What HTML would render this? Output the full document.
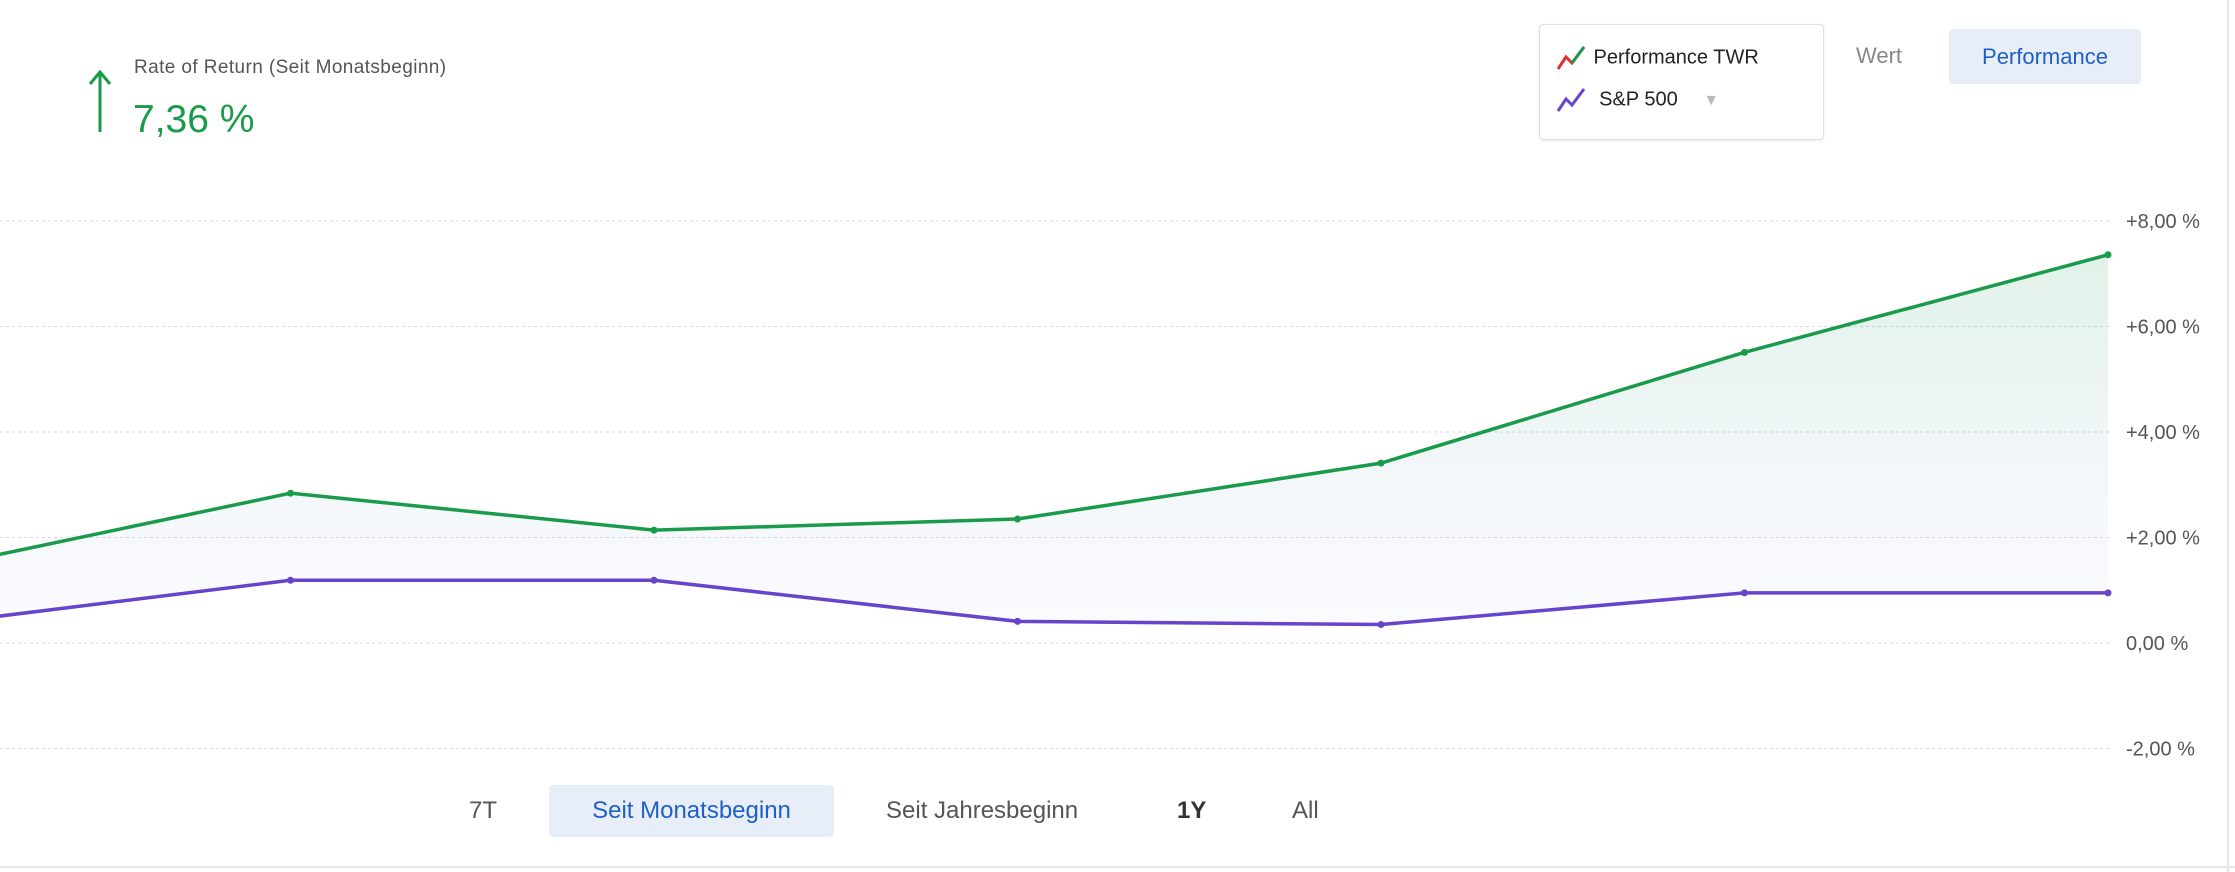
<!DOCTYPE html>
<html><head><meta charset="utf-8"><style>
body{margin:0;width:2235px;height:872px;background:#fff;font-family:"Liberation Sans",sans-serif;overflow:hidden;position:relative}
.a{position:absolute;white-space:nowrap}
</style></head><body>
<div class="a" style="left:2227px;top:0;width:2px;height:872px;background:#e3e6ea"></div>
<div class="a" style="left:0;top:866px;width:2235px;height:2px;background:#e3e6ea"></div>
<svg class="a" style="left:88px;top:68px" width="24" height="66"><path d="M12 64V4M2 16L12 4L22 16" stroke="#1a9b4b" stroke-width="3" fill="none"/></svg>
<div class="a" style="left:134px;top:57px;font-size:19px;letter-spacing:0.4px;color:#555">Rate of Return (Seit Monatsbeginn)</div>
<div class="a" style="left:133px;top:98px;font-size:39px;color:#1a9b4b">7,36 %</div>
<div class="a" style="left:1539px;top:24px;width:283px;height:114px;border:1px solid #dde0e4;border-radius:4px;box-shadow:0 1px 3px rgba(0,0,0,.08)">
 <div class="a" style="left:14px;top:18px;font-size:20px;color:#222"><svg width="34" height="30" style="vertical-align:middle"><path d="M4 26L12 14L18 20L30 4" stroke="#e03030" stroke-width="3" fill="none"/><path d="M18 20L30 4" stroke="#1a9b4b" stroke-width="3"/></svg> Performance TWR</div>
 <div class="a" style="left:14px;top:60px;font-size:20px;color:#222"><svg width="34" height="30" style="vertical-align:middle"><path d="M4 26L12 14L18 20L30 4" stroke="#6644cc" stroke-width="3" fill="none"/></svg> &nbsp;S&amp;P 500 <span style="color:#bbb;font-size:16px;margin-left:20px">▼</span></div>
</div>
<div class="a" style="left:1856px;top:43px;font-size:22px;color:#888">Wert</div>
<div class="a" style="left:1949px;top:29px;width:192px;height:55px;background:#e7eef8;border-radius:4px;color:#1f5fc8;font-size:22px;text-align:center;line-height:55px">Performance</div>
<svg class="a" style="left:0;top:0" width="2235" height="872" id="chart">
<defs><linearGradient id="g" x1="0" y1="0" x2="0" y2="1"><stop offset="0" stop-color="#1a9b4b" stop-opacity=".13"/><stop offset="1" stop-color="#6a7fe0" stop-opacity=".03"/></linearGradient></defs>
</svg>
<div class="a" style="left:469px;top:797px;font-size:24px;color:#555">7T</div>
<div class="a" style="left:549px;top:785px;width:285px;height:52px;background:#e7eef8;border-radius:4px;color:#1f5fc8;font-size:24px;text-align:center;line-height:52px">Seit Monatsbeginn</div>
<div class="a" style="left:886px;top:797px;font-size:24px;color:#555">Seit Jahresbeginn</div>
<div class="a" style="left:1177px;top:797px;font-size:24px;color:#333;font-weight:bold">1Y</div>
<div class="a" style="left:1292px;top:797px;font-size:24px;color:#555">All</div>
<script>
const ticks=[8,6,4,2,0,-2];
const tickLabels=["+8,00 %","+6,00 %","+4,00 %","+2,00 %","0,00 %","-2,00 %"];
const twr=[1.39,2.84,2.14,2.35,3.41,5.51,7.36];
const sp500=[0.34,1.19,1.19,0.41,0.35,0.95,0.95];
const NS="http://www.w3.org/2000/svg";
const svg=document.getElementById('chart');
const y=v=>643-v*52.75;
const x=i=>2108-(twr.length-1-i)*363.5;
function mk(t,a){const e=document.createElementNS(NS,t);for(const k in a)e.setAttribute(k,a[k]);svg.appendChild(e);return e;}
ticks.forEach((t,i)=>{
 const l=mk('line',{x1:0,x2:2110,y1:y(t),y2:y(t),stroke:'#d4dae6','stroke-dasharray':'3 3'});
 
 
 const tx=mk('text',{x:2126,y:y(t)+7,'font-size':20,fill:'#555','font-family':'Liberation Sans'});
 tx.textContent=tickLabels[i];
 
 
});
const pts=s=>s.map((v,i)=>x(i)+','+y(v)).join(' ');
const area=mk('polygon',{points:pts(twr)+' '+x(twr.length-1)+','+y(sp500[sp500.length-1])+' '+sp500.map((v,i)=>x(i)+','+y(v)).reverse().join(' '),fill:'url(#g)'});


[[twr,'#1a9b4b','twr'],[sp500,'#6644cc','sp500']].forEach(([s,c,n])=>{
 const p=mk('polyline',{points:pts(s),fill:'none',stroke:c,'stroke-width':3.5});
 
 
 s.forEach((v,i)=>{const d=mk('circle',{cx:x(i),cy:y(v),r:3.5,fill:c});
  
  });
});
</script>
</body></html>
